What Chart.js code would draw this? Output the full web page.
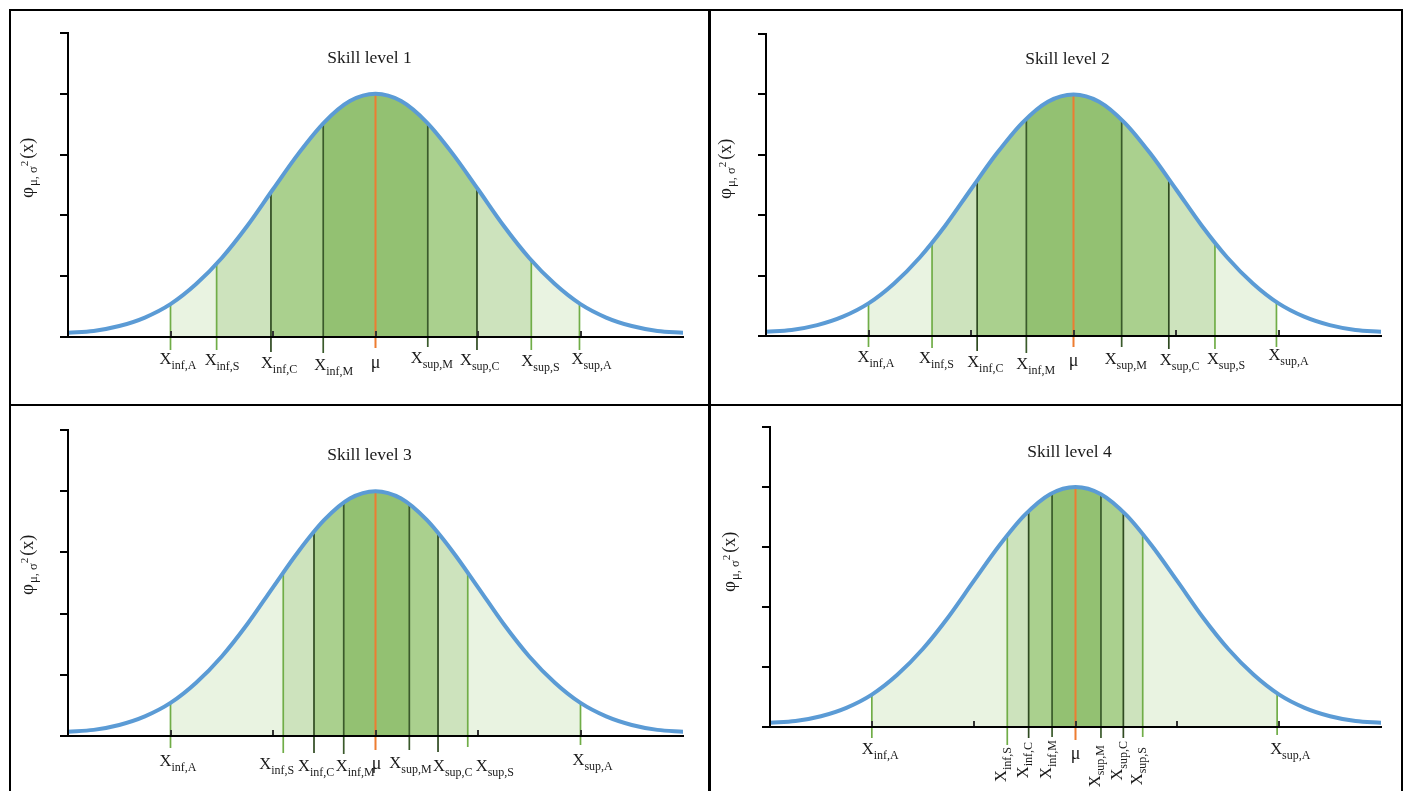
<!DOCTYPE html>
<html>
<head>
<meta charset="utf-8">
<script src="https://cdn.jsdelivr.net/npm/chart.js@4.4.1/dist/chart.umd.min.js"></script>
<style>
  html, body { margin: 0; padding: 0; background: #fff; }
  body { width: 1405px; height: 791px; position: relative; overflow: hidden; }
  .cell { position: absolute; }
  .rule { position: absolute; background: #000; }
</style>
</head>
<body>
<div class="rule" style="left:9px;top:9px;width:1394px;height:2px"></div>
<div class="rule" style="left:9px;top:9px;width:2px;height:800px"></div>
<div class="rule" style="left:1401px;top:9px;width:2px;height:800px"></div>
<div class="rule" style="left:708px;top:9px;width:3px;height:800px"></div>
<div class="rule" style="left:9px;top:404px;width:1394px;height:2px"></div>

<div class="cell" style="left:11px;top:11px;width:697px;height:393px"><canvas id="c1"></canvas></div>
<div class="cell" style="left:711px;top:11px;width:690px;height:393px"><canvas id="c2"></canvas></div>
<div class="cell" style="left:11px;top:406px;width:697px;height:385px"><canvas id="c3"></canvas></div>
<div class="cell" style="left:711px;top:406px;width:690px;height:385px"><canvas id="c4"></canvas></div>

<script>
// bell curve (x in sigma units, y in axis tick units)
const curveX = [-3, -2.75, -2.5, -2.25, -2, -1.75, -1.5, -1.25, -1, -0.75, -0.5, -0.25, 0,
                0.25, 0.5, 0.75, 1, 1.25, 1.5, 1.75, 2, 2.25, 2.5, 2.75, 3];
const curveY = [0.07, 0.1, 0.18, 0.32, 0.54, 0.87, 1.3, 1.83, 2.43, 3.02, 3.53, 3.88, 4.0,
                3.88, 3.53, 3.02, 2.43, 1.83, 1.3, 0.87, 0.54, 0.32, 0.18, 0.1, 0.07];
const xTickValues = [-2, -1, 0, 1, 2];

const titles = ["Skill level 1", "Skill level 2", "Skill level 3", "Skill level 4"];
const markNames = ["inf,A", "inf,S", "inf,C", "inf,M", "μ", "sup,M", "sup,C", "sup,S", "sup,A"];

// positions of the X marks for each skill level
const level1 = [-2.0, -1.55, -1.02, -0.51, 0, 0.51, 0.99, 1.52, 1.99];
const level2 = [-2.0, -1.38, -0.94, -0.46, 0, 0.47, 0.93, 1.38, 1.98];
const level3 = [-2.0, -0.90, -0.60, -0.31, 0, 0.33, 0.61, 0.90, 2.0];
const level4 = [-2.0, -0.67, -0.46, -0.23, 0, 0.25, 0.47, 0.66, 1.98];

// styles
const bandColors = ["#e9f3e1", "#cde3bd", "#aad08e", "#93c172"];
const markColors = ["#70ad47", "#70ad47", "#2f4a21", "#3a5a2b", "#ed7d31",
                    "#3a5a2b", "#2f4a21", "#70ad47", "#70ad47"];
const SERIF = '"Liberation Serif", "DejaVu Serif", serif';

// per panel layout: padding, line extension below axis, label nudges
const panels = {
  c1: { marks: level1, title: titles[0], pad: { left: 49, top: 22, right: 25, bottom: 67 },
        ext: [13, 13, 15, 16, 11, 10, 13, 13, 13],
        dx: [-11, -12, -10, -9, 0, -17, -17, -10, -8],
        dy: [27, 28, 31, 33, 31, 26, 28, 29, 27], rot: [] },
  c2: { marks: level2, title: titles[1], pad: { left: 47, top: 23, right: 20, bottom: 68 },
        ext: [11, 12, 15, 17, 11, 11, 13, 13, 11],
        dx: [-11, -13, -10, -10, 0, -17, -9, -8, -8],
        dy: [26, 27, 31, 33, 30, 28, 29, 28, 24], rot: [] },
  c3: { marks: level3, title: titles[2], pad: { left: 49, top: 24, right: 25, bottom: 55 },
        ext: [12, 17, 17, 18, 14, 14, 16, 11, 9],
        dx: [-11, -24, -16, -8, 1, -20, -5, 8, -8],
        dy: [30, 33, 35, 35, 33, 32, 35, 35, 29], rot: [] },
  c4: { marks: level4, title: titles[3], pad: { left: 51, top: 21, right: 20, bottom: 64 },
        ext: [11, 18, 11, 10, 13, 11, 11, 10, 8],
        dx: [-10, -1, -1, -1, 0, -1, -1, -1, -7],
        dy: [27, 20, 15, 13, 32, 18, 14, 20, 27], rot: [1, 2, 3, 5, 6, 7] }
};

function drawParts(ctx, parts, x, y) {
  let cx = x;
  for (const p of parts) {
    ctx.font = p.size + 'px ' + SERIF;
    ctx.fillText(p.t, cx + (p.gap || 0), y + p.dy);
    cx += ctx.measureText(p.t).width + (p.gap || 0);
  }
  return cx - x;
}
function partsWidth(ctx, parts) {
  let w = 0;
  for (const p of parts) {
    ctx.font = p.size + 'px ' + SERIF;
    w += ctx.measureText(p.t).width + (p.gap || 0);
  }
  return w;
}

const panelPlugin = {
  id: 'panel',
  beforeDatasetsDraw(chart) {
    const p = panels[chart.canvas.id];
    const { ctx, chartArea: area, scales: { x, y } } = chart;
    const line = chart.getDatasetMeta(0).dataset;
    line.updateControlPoints(area, 'x');
    const base = y.getPixelForValue(0);

    // nested bands under the curve
    for (let b = 0; b < 4; b++) {
      const x0 = x.getPixelForValue(p.marks[b]);
      const x1 = x.getPixelForValue(p.marks[8 - b]);
      ctx.save();
      ctx.beginPath();
      ctx.rect(x0, area.top - 5, x1 - x0, base - area.top + 5);
      ctx.clip();
      ctx.beginPath();
      line.path(ctx);
      ctx.lineTo(area.right, base);
      ctx.lineTo(area.left, base);
      ctx.closePath();
      ctx.fillStyle = bandColors[b];
      ctx.fill();
      ctx.restore();
    }

    // vertical marks, clipped to the curve on top
    ctx.save();
    ctx.beginPath();
    line.path(ctx);
    ctx.lineTo(area.right, base + 60);
    ctx.lineTo(area.left, base + 60);
    ctx.closePath();
    ctx.clip();
    p.marks.forEach((v, i) => {
      const px = x.getPixelForValue(v);
      ctx.beginPath();
      ctx.moveTo(px, base + p.ext[i]);
      ctx.lineTo(px, area.top);
      ctx.strokeStyle = markColors[i];
      ctx.lineWidth = i === 4 ? 2 : 1.7;
      ctx.stroke();
    });
    ctx.restore();
  },
  afterDatasetsDraw(chart) {
    const p = panels[chart.canvas.id];
    const { ctx, chartArea: area, scales: { x, y } } = chart;
    const base = y.getPixelForValue(0);
    ctx.save();

    // small inward ticks on the x axis
    ctx.fillStyle = '#333';
    xTickValues.forEach(v => {
      const px = Math.round(x.getPixelForValue(v));
      ctx.fillRect(px - 1, base - 6, 2, 6);
    });

    ctx.fillStyle = '#1a1a1a';
    ctx.textBaseline = 'alphabetic';
    ctx.textAlign = 'left';

    // mark labels
    p.marks.forEach((v, i) => {
      const px = x.getPixelForValue(v);
      const name = markNames[i];
      if (name === 'μ') {
        ctx.font = '18px ' + SERIF;
        const w = ctx.measureText('μ').width;
        ctx.fillText('μ', px - w / 2 + p.dx[i], base + p.dy[i]);
        return;
      }
      const parts = [{ t: 'X', size: 16.5, dy: 0 }, { t: name, size: 12, dy: 4.5 }];
      if (p.rot.includes(i)) {
        const w = partsWidth(ctx, parts);
        ctx.save();
        ctx.translate(px + p.dx[i], base + p.dy[i] + w);
        ctx.rotate(-Math.PI / 2);
        drawParts(ctx, parts, 0, 0);
        ctx.restore();
      } else {
        drawParts(ctx, parts, px + p.dx[i], base + p.dy[i]);
      }
    });

    // title
    ctx.font = '17.5px ' + SERIF;
    ctx.textAlign = 'center';
    ctx.fillText(p.title, (area.left + area.right) / 2 - 6, area.top + 30);
    ctx.textAlign = 'left';

    // y axis label
    const yParts = [
      { t: 'φ', size: 19, dy: 0 },
      { t: 'μ, σ', size: 12.5, dy: 4, gap: 1 },
      { t: '2', size: 11, dy: -5 },
      { t: '(x)', size: 18, dy: 0, gap: 2 }
    ];
    ctx.translate(area.left - 35, area.top + 165);
    ctx.rotate(-Math.PI / 2);
    drawParts(ctx, yParts, 0, 0);
    ctx.restore();
  }
};

function makeChart(id) {
  return new Chart(document.getElementById(id), {
    type: 'line',
    data: {
      datasets: [{
        data: curveX.map((v, i) => ({ x: v, y: curveY[i] })),
        borderColor: '#5b9bd5',
        borderWidth: 4,
        pointRadius: 0,
        fill: false,
        cubicInterpolationMode: 'monotone',
        borderCapStyle: 'round'
      }]
    },
    options: {
      responsive: true,
      maintainAspectRatio: false,
      animation: false,
      layout: { padding: panels[id].pad },
      plugins: { legend: { display: false }, tooltip: { enabled: false } },
      scales: {
        x: {
          type: 'linear', min: -3, max: 3,
          ticks: { display: false },
          grid: { display: false, drawTicks: false },
          border: { display: true, color: '#000', width: 2, z: 1 }
        },
        y: {
          min: 0, max: 5,
          ticks: { display: false, stepSize: 1 },
          grid: { drawOnChartArea: false, drawTicks: true, tickLength: 8, color: '#000', lineWidth: 2 },
          border: { color: '#000', width: 2, z: 1 }
        }
      }
    },
    plugins: [panelPlugin]
  });
}

['c1', 'c2', 'c3', 'c4'].forEach(makeChart);
</script>
</body>
</html>
